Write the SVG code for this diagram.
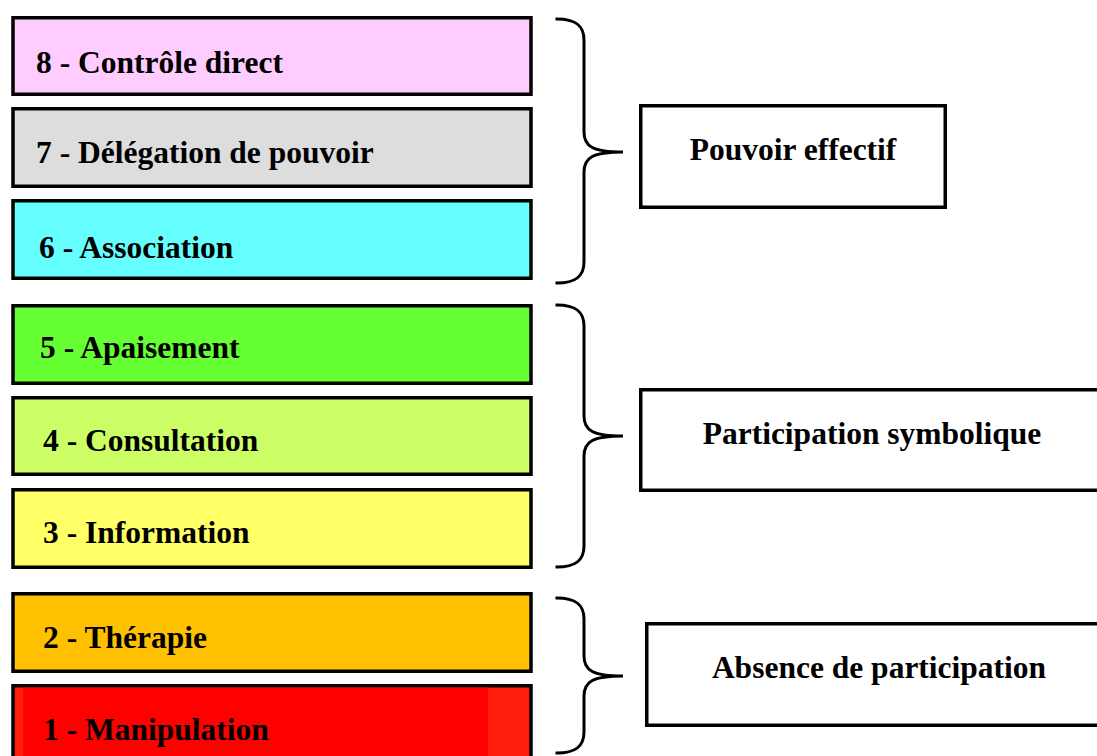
<svg xmlns="http://www.w3.org/2000/svg" width="1097" height="756" viewBox="0 0 1097 756">
<style>
.lvl{stroke:#000;stroke-width:3.5}
.grp{fill:#fff;stroke:#000;stroke-width:3.5}
.t{font-family:"Liberation Serif","Times New Roman",serif;font-weight:bold;font-size:31.5px;fill:#000}
.c{text-anchor:middle}
.br{fill:none;stroke:#000;stroke-width:3;stroke-linecap:square}
</style>
<rect width="1097" height="756" fill="#fff"/>
<g id="level8"><rect class="lvl" x="13" y="17.75" width="518" height="76.5" fill="#FFCCFF"/><text class="t" x="36" y="73">8 - Contrôle direct</text></g>
<g id="level7"><rect class="lvl" x="13" y="108.75" width="518" height="77.5" fill="#DDDDDD"/><text class="t" x="36" y="163">7 - Délégation de pouvoir</text></g>
<g id="level6"><rect class="lvl" x="13" y="200.75" width="518" height="77.5" fill="#66FFFF"/><text class="t" x="39" y="258">6 - Association</text></g>
<g id="level5"><rect class="lvl" x="13" y="305.75" width="518" height="77.5" fill="#66FF33"/><text class="t" x="40" y="358">5 - Apaisement</text></g>
<g id="level4"><rect class="lvl" x="13" y="397.75" width="518" height="76.5" fill="#CCFF66"/><text class="t" x="43" y="451">4 - Consultation</text></g>
<g id="level3"><rect class="lvl" x="13" y="489.75" width="518" height="77.5" fill="#FFFF66"/><text class="t" x="43" y="543">3 - Information</text></g>
<g id="level2"><rect class="lvl" x="13" y="593.75" width="518" height="77.5" fill="#FFC000"/><text class="t" x="43" y="648">2 - Thérapie</text></g>
<g id="level1"><rect class="lvl" x="13" y="685.75" width="518" height="80" fill="#FF1F0A"/><rect x="23" y="687.5" width="465" height="80" fill="#FF0000"/><text class="t" x="43" y="740">1 - Manipulation</text></g>
<g id="group-pouvoir"><rect class="grp" x="640.75" y="105.75" width="304.5" height="101.5"/><text class="t c" x="793" y="160">Pouvoir effectif</text></g>
<g id="group-symbolique"><rect class="grp" x="640.75" y="389.75" width="470" height="100.5"/><text class="t c" x="872" y="444">Participation symbolique</text></g>
<g id="group-absence"><rect class="grp" x="646.75" y="623.75" width="470" height="101.5"/><text class="t c" x="879" y="678">Absence de participation</text></g>
<g id="connectors">
<path class="br" d="M557,19 C575,19 584,25 584,40 L584,132 C584,146 592,152 623,152 C592,152 584,158 584,172 L584,262 C584,277 575,283 557,283"/>
<path class="br" d="M557,305 C575,305 584,311 584,326 L584,416 C584,430 592,436 623,436 C592,436 584,442 584,456 L584,546 C584,561 575,567 557,567"/>
<path class="br" d="M557,598 C575,598 584,604 584,619 L584,656 C584,670 592,676 623,676 C592,676 584,682 584,696 L584,732 C584,747 575,753 557,753"/>
</g>
</svg>
